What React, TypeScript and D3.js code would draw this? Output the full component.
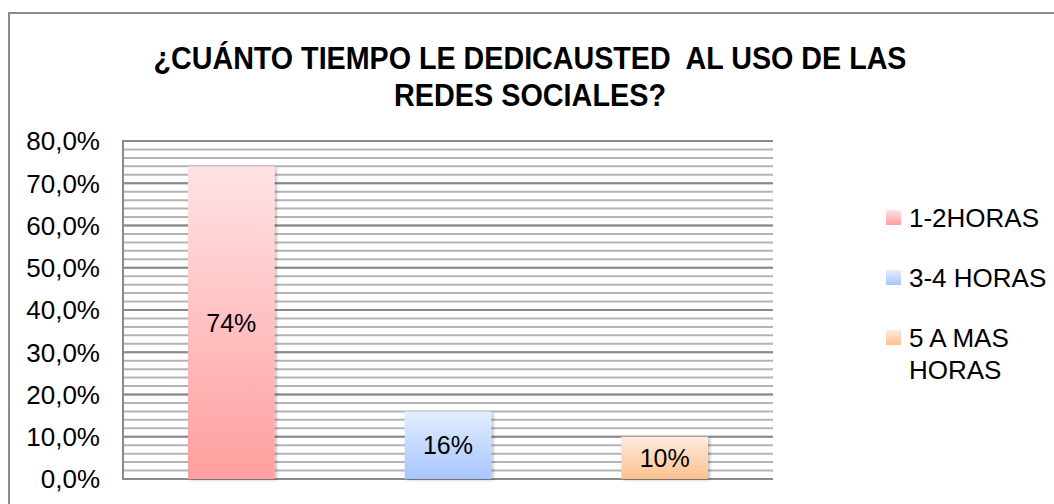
import React, { useEffect, useRef } from 'react';
import * as d3 from 'd3';

const categories = ['1-2HORAS', '3-4 HORAS', '5 A MAS HORAS'];
const values = [0.74, 0.16, 0.1];
const valueLabels = ['74%', '16%', '10%'];
const legendLines = [['1-2HORAS'], ['3-4 HORAS'], ['5 A MAS', 'HORAS']];
const yTicks = [0, 0.1, 0.2, 0.3, 0.4, 0.5, 0.6, 0.7, 0.8];
const minorTicks = d3.range(0, 0.8001, 0.02);
const titleLines = ['¿CUÁNTO TIEMPO LE DEDICAUSTED  AL USO DE LAS', 'REDES SOCIALES?'];
const titleWidths = [753, 272];
// top / bottom gradient colours per series
const barColors = [
  ['#ffe3e5', '#ff9e9e'],
  ['#e3edff', '#a7c5ff'],
  ['#ffeadf', '#ffc18d'],
];

const W = 1054;
const H = 504;

const App: React.FC = () => {
  const svgRef = useRef<SVGSVGElement>(null);

  useEffect(() => {
    if (!svgRef.current) return;
    const root = d3.select(svgRef.current);
    root.selectAll('*').remove();

    const font = 'Arial, "Liberation Sans", sans-serif';

    const defs = root.append('defs');
    barColors.forEach((c, i) => {
      const g = defs.append('linearGradient')
        .attr('id', `bar-grad-${i}`)
        .attr('x1', '0%').attr('x2', '0%')
        .attr('y1', '0%').attr('y2', '100%');
      g.append('stop').attr('offset', '0%').attr('stop-color', c[0]);
      g.append('stop').attr('offset', '100%').attr('stop-color', c[1]);
    });
    const shadow = defs.append('filter').attr('id', 'bar-shadow')
      .attr('x', '-10%').attr('y', '-10%').attr('width', '130%').attr('height', '130%');
    shadow.append('feDropShadow')
      .attr('dx', 2).attr('dy', 1).attr('stdDeviation', 1.5)
      .attr('flood-color', '#000').attr('flood-opacity', 0.25);

    // Outer chart frame
    root.append('rect')
      .attr('x', 9).attr('y', 13)
      .attr('width', W + 20).attr('height', H + 20)
      .attr('fill', '#fff')
      .attr('stroke', '#8c8c8c')
      .attr('stroke-width', 2);

    // Title (condensed to the reference's width)
    titleLines.forEach((t, i) => {
      root.append('text')
        .attr('x', 530)
        .attr('y', 69 + i * 37)
        .attr('text-anchor', 'middle')
        .attr('font-family', font)
        .attr('font-weight', 'bold')
        .attr('font-size', 31)
        .attr('fill', '#000')
        .attr('textLength', titleWidths[i])
        .attr('lengthAdjust', 'spacingAndGlyphs')
        .style('white-space', 'pre')
        .text(t);
    });

    const plot = { left: 123, right: 773, top: 141, bottom: 479 };

    const x = d3.scaleBand<string>()
      .domain(categories)
      .range([plot.left, plot.right])
      .paddingInner(0.6)
      .paddingOuter(0.3);

    const y = d3.scaleLinear()
      .domain([0, 0.8])
      .range([plot.bottom, plot.top]);

    // Minor gridlines
    root.append('g')
      .selectAll('line')
      .data(minorTicks)
      .enter()
      .append('line')
      .attr('x1', plot.left)
      .attr('x2', plot.right)
      .attr('y1', d => y(d))
      .attr('y2', d => y(d))
      .attr('stroke', '#b4b4b4')
      .attr('stroke-width', 2);

    // Major gridlines
    root.append('g')
      .selectAll('line')
      .data(yTicks)
      .enter()
      .append('line')
      .attr('x1', plot.left)
      .attr('x2', plot.right)
      .attr('y1', d => y(d))
      .attr('y2', d => y(d))
      .attr('stroke', '#8a8a8a')
      .attr('stroke-width', 2);

    // Left axis line
    root.append('line')
      .attr('x1', plot.left).attr('x2', plot.left)
      .attr('y1', plot.top - 1).attr('y2', plot.bottom + 1)
      .attr('stroke', '#8a8a8a')
      .attr('stroke-width', 2);

    // Y tick labels
    const fmt = (d: number) => (d * 100).toFixed(1).replace('.', ',') + '%';
    root.append('g')
      .selectAll('text')
      .data(yTicks)
      .enter()
      .append('text')
      .attr('x', 100)
      .attr('y', d => y(d))
      .attr('dy', '0.36em')
      .attr('text-anchor', 'end')
      .attr('font-family', font)
      .attr('font-size', 26)
      .attr('fill', '#000')
      .text(d => fmt(d));

    // Bars
    root.append('g')
      .selectAll('rect')
      .data(values)
      .enter()
      .append('rect')
      .attr('x', (d, i) => x(categories[i])!)
      .attr('y', d => y(d))
      .attr('width', x.bandwidth())
      .attr('height', d => plot.bottom - y(d))
      .attr('fill', (d, i) => `url(#bar-grad-${i})`)
      .attr('filter', 'url(#bar-shadow)');

    // Value labels
    root.append('g')
      .selectAll('text')
      .data(values)
      .enter()
      .append('text')
      .attr('x', (d, i) => x(categories[i])! + x.bandwidth() / 2)
      .attr('y', d => (y(d) + plot.bottom) / 2)
      .attr('dy', '0.36em')
      .attr('text-anchor', 'middle')
      .attr('font-family', font)
      .attr('font-size', 25)
      .attr('fill', '#000')
      .text((d, i) => valueLabels[i]);

    // Legend
    const legend = root.append('g').attr('transform', 'translate(886, 218)');
    legendLines.forEach((lines, i) => {
      const item = legend.append('g').attr('transform', `translate(0, ${i * 60})`);
      item.append('rect')
        .attr('x', 0).attr('y', -8)
        .attr('width', 15).attr('height', 15)
        .attr('fill', `url(#bar-grad-${i})`);
      const t = item.append('text')
        .attr('font-family', font)
        .attr('font-size', 26)
        .attr('fill', '#000');
      lines.forEach((l, j) => {
        t.append('tspan')
          .attr('x', 23)
          .attr('y', j * 32)
          .attr('dy', '0.36em')
          .text(l);
      });
    });
  }, []);

  return (
    <svg
      ref={svgRef}
      width={W}
      height={H}
      style={{ position: 'absolute', left: 0, top: 0, background: '#fff' }}
    />
  );
};

export default App;
